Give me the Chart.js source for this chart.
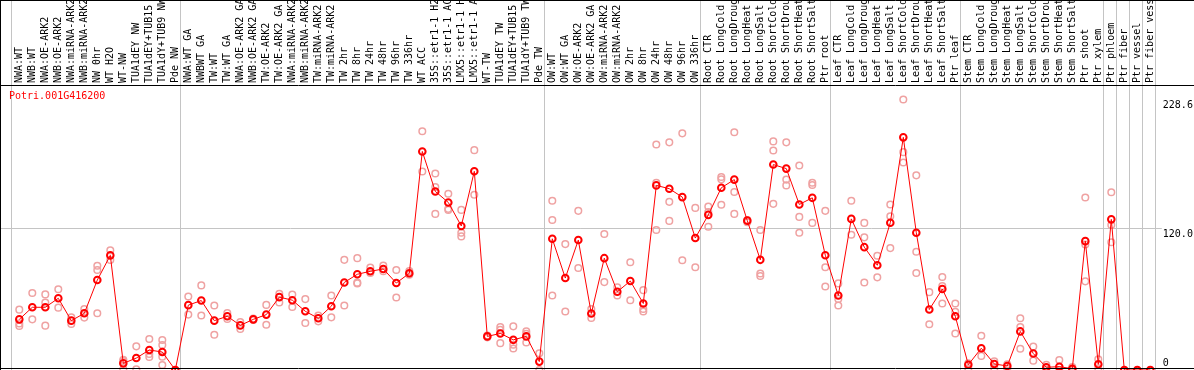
<!DOCTYPE html>
<html><head><meta charset="utf-8">
<script src="https://cdn.jsdelivr.net/npm/chart.js@4/dist/chart.umd.min.js"></script>
<style>html,body{margin:0;padding:0;background:#fff;overflow:hidden}canvas{display:block}</style>
</head><body>
<canvas id="c" width="1194" height="370"></canvas>
<script>
const geneId = 'Potri.001G416200';

const categories = [
  'NWA:WT','NWB:WT','NWA:OE-ARK2','NWB:OE-ARK2','NWA:miRNA-ARK2','NWB:miRNA-ARK2','NW 0hr','WT H2O','WT-NW',
  'TUA1dEY NW','TUA1dEY+TUB15 NW','TUA1dY+TUB9 NW','Pde NW',
  'NWA:WT GA','NWBWT GA','TW:WT','TW:WT GA','NWA:OE-ARK2 GA','NWB:OE-ARK2 GA','TW:OE-ARK2','TW:OE-ARK2 GA',
  'NWA:miRNA-ARK2','NWB:miRNA-ARK2','TW:miRNA-ARK2','TW:miRNA-ARK2','TW 2hr','TW 8hr','TW 24hr','TW 48hr','TW 96hr','TW 336hr',
  'WT ACC','35S::etr1-1 H2O','35S::etr1-1 ACC','LMX5::etr1-1 H2O','LMX5::etr1-1 ACC','WT-TW','TUA1dEY TW','TUA1dEY+TUB15 TW','TUA1dY+TUB9 TW','Pde TW',
  'OW:WT','OW:WT GA','OW:OE-ARK2','OW:OE-ARK2 GA','OW:miRNA-ARK2','OW:miRNA-ARK2','OW 2hr','OW 8hr','OW 24hr','OW 48hr','OW 96hr','OW 336hr',
  'Root CTR','Root LongCold','Root LongDrought','Root LongHeat','Root LongSalt','Root ShortCold','Root ShortDrought','Root ShortHeat','Root ShortSalt','Ptr root',
  'Leaf CTR','Leaf LongCold','Leaf LongDrought','Leaf LongHeat','Leaf LongSalt','Leaf ShortCold','Leaf ShortDrought','Leaf ShortHeat','Leaf ShortSalt','Ptr leaf',
  'Stem CTR','Stem LongCold','Stem LongDrought','Stem LongHeat','Stem LongSalt','Stem ShortCold','Stem ShortDrought','Stem ShortHeat','Stem ShortSalt',
  'Ptr shoot','Ptr xylem','Ptr phloem','Ptr fiber','Ptr vessel','Ptr fiber vessel'
];

const means = [
  42.8, 53.0, 53.0, 60.6, 41.7, 47.9, 76.0, 96.9, 5.6, 10.1, 16.9, 15.2, 0,
  54.8, 58.7, 41.7, 45.4, 37.7, 42.8, 46.8, 61.6, 59.0, 49.6, 43.7, 53.9, 74.0, 80.9, 83.4, 85.4, 73.5, 81.7,
  184.7, 150.9, 141.6, 121.7, 167.9, 28.4, 30.9, 25.5, 28.4, 7.1,
  110.9, 77.7, 109.8, 47.7, 94.5, 66.1, 75.2, 56.2, 156.0, 153.2, 146.1, 111.5,
  131.1, 154.0, 160.9, 126.2, 93.1, 173.6, 170.2, 139.9, 145.5, 97.0,
  63.0, 127.7, 103.8, 88.5, 124.5, 196.6, 116.0, 51.1, 68.4, 45.4,
  4.5, 18.4, 5.1, 3.4, 32.6, 13.9, 2.3, 2.8, 1.1,
  108.9, 4.8, 127.3, 0, 0, 0
];

const replicates = [
  [51.0, 39.4, 37.2], [65.1, 42.8], [63.9, 56.9, 37.5], [68.2, 52.7], [44.5, 38.9], [51.5, 44.3],
  [88.1, 84.5, 47.9], [101.1, 93.0], [7.6, 8.6, 0.6], [20.0, 0.6], [26.2, 13.6, 11.0], [25.4, 21.1, 11.3, 4.2], [0, 0],
  [62.1, 46.8], [71.5, 46.0], [54.5, 29.8], [48.2, 43.1], [40.6, 34.6], [43.4, 42.2], [55.0, 38.3], [64.4, 57.0],
  [63.8, 53.3], [59.9, 39.7], [46.0, 41.1], [63.0, 44.5], [93.1, 54.5], [94.5, 73.8, 73.2], [86.5, 82.0], [88.2, 83.5],
  [84.5, 61.3], [83.7, 80.5],
  [201.7, 167.7], [166.0, 154.6, 131.9], [148.9, 136.2, 135.3], [135.3, 116.0, 112.9], [185.8, 148.1],
  [29.2, 27.6], [36.3, 34.0, 22.7], [36.9, 21.3, 18.2], [32.6, 30.5, 23.3], [14.2, 0],
  [143.0, 126.8, 63.0], [106.4, 49.4], [134.5, 86.2], [51.6, 44.0], [114.9, 74.3], [69.8, 63.0], [91.1, 59.0],
  [67.5, 51.6, 49.4], [190.6, 158.3, 118.3], [192.4, 142.1, 126.0], [200.0, 92.8], [137.0, 86.8],
  [138.2, 133.5, 121.1], [163.1, 161.1, 139.6], [200.9, 150.4, 131.9], [126.8, 124.8], [118.3, 81.5, 79.4],
  [193.2, 185.5, 140.4], [192.4, 160.9, 156.0], [172.8, 129.4, 116.0], [158.3, 156.3, 124.3], [134.5, 86.8, 70.6],
  [73.2, 60.1, 54.5], [143.0, 114.3], [124.3, 112.1, 74.0], [96.5, 78.3], [139.9, 129.9, 103.0],
  [228.6, 184.1, 175.3], [164.5, 99.9, 82.0], [65.8, 38.6], [78.6, 70.9, 56.2], [56.2, 49.1, 30.9],
  [5.7, 1.4], [28.9, 11.9], [7.4, 1.4], [4.8, 1.4], [43.7, 36.3, 17.9], [19.9, 7.9], [4.3, 0.6], [8.5, 0], [2.5, 0],
  [145.8, 106.1, 74.9], [9.0, 1.4], [150.2, 122.5, 107.9], [0], [0], [0]
];

// index of the last category in each group (separator drawn after it)
const groupEnds = [-1, 12, 40, 52, 62, 72, 83, 84, 85, 86, 87];

const yTickValues = [0, 120, 228.6];
const yTickLabels = ['0', '120.0', '228.6'];
const yGridValues = [120];
const yMax = 240;

const meanPoints = means.map((v, i) => ({x: i, y: v}));
const repPoints = [];
replicates.forEach((arr, i) => arr.forEach(v => repPoints.push({x: i, y: v})));

const FONT = "'DejaVu Sans Mono', monospace";

const decor = {
  id: 'decor',
  beforeDatasetsDraw(chart) {
    const {ctx, scales: {x, y}, chartArea} = chart;
    const H = chart.height;
    ctx.save();
    ctx.strokeStyle = '#c4c4c4';
    ctx.lineWidth = 1;
    groupEnds.forEach(e => {
      const px = Math.round(x.getPixelForValue(e + 0.5) - 2) + 0.5;
      ctx.beginPath(); ctx.moveTo(px, 0); ctx.lineTo(px, H); ctx.stroke();
    });
    yGridValues.forEach(v => {
      const py = Math.round(y.getPixelForValue(v)) + 0.5;
      ctx.beginPath(); ctx.moveTo(0, py); ctx.lineTo(chartArea.right + 5, py); ctx.stroke();
    });
    ctx.restore();
  },
  afterDraw(chart) {
    const {ctx, scales: {x, y}, chartArea} = chart;
    const W = chart.width, H = chart.height;
    ctx.save();
    ctx.strokeStyle = '#000';
    ctx.lineWidth = 1;
    const axisY = Math.round(chartArea.top) - 0.5;
    ctx.beginPath();
    ctx.moveTo(0, 0.5); ctx.lineTo(W, 0.5);
    ctx.moveTo(0.5, 0); ctx.lineTo(0.5, H);
    ctx.moveTo(0, H - 1.5); ctx.lineTo(W, H - 1.5);
    ctx.moveTo(0, axisY); ctx.lineTo(W, axisY);
    ctx.stroke();
    // gene id
    ctx.font = '10px ' + FONT;
    ctx.fillStyle = '#ff0000';
    ctx.textAlign = 'left';
    ctx.textBaseline = 'top';
    ctx.fillText(geneId, 9, chartArea.top + 5);
    // y tick labels
    ctx.fillStyle = '#000';
    yTickValues.forEach((v, i) => {
      let py = y.getPixelForValue(v) + 1;
      py = Math.min(py, chartArea.bottom - 12);
      ctx.fillText(yTickLabels[i], chartArea.right + 6, py);
    });
    ctx.restore();
  }
};

new Chart(document.getElementById('c'), {
  type: 'scatter',
  data: {
    datasets: [
      {
        label: 'mean', data: meanPoints, showLine: true,
        borderColor: '#ff0000', borderWidth: 1,
        pointRadius: 3.3, pointBorderWidth: 2, pointBorderColor: '#ff0000',
        pointBackgroundColor: 'rgba(0,0,0,0)', tension: 0, clip: false, order: 1
      },
      {
        label: 'replicates', data: repPoints, showLine: false,
        pointRadius: 3.3, pointBorderWidth: 1.5, pointBorderColor: '#efa2a2',
        pointBackgroundColor: 'rgba(0,0,0,0)', clip: false, order: 2
      }
    ]
  },
  options: {
    responsive: false,
    animation: false,
    events: [],
    devicePixelRatio: 1,
    layout: {autoPadding: false, padding: {left: 12.8, right: 37.2, top: 0, bottom: 0}},
    plugins: {legend: {display: false}, tooltip: {enabled: false}, title: {display: false}},
    scales: {
      x: {
        type: 'linear', position: 'top',
        min: -0.5, max: categories.length - 0.5,
        afterBuildTicks: s => { s.ticks = categories.map((_, i) => ({value: i})); },
        afterFit: s => { s.height = 86; },
        grid: {display: false, drawTicks: false},
        border: {display: false},
        ticks: {
          autoSkip: false, minRotation: 90, maxRotation: 90, padding: 3, labelOffset: 12,
          color: '#000', font: {family: FONT, size: 10},
          callback: v => categories[Math.round(v)]
        }
      },
      y: {
        display: false, min: 0, max: yMax
      }
    }
  },
  plugins: [decor]
});
</script>
</body></html>
